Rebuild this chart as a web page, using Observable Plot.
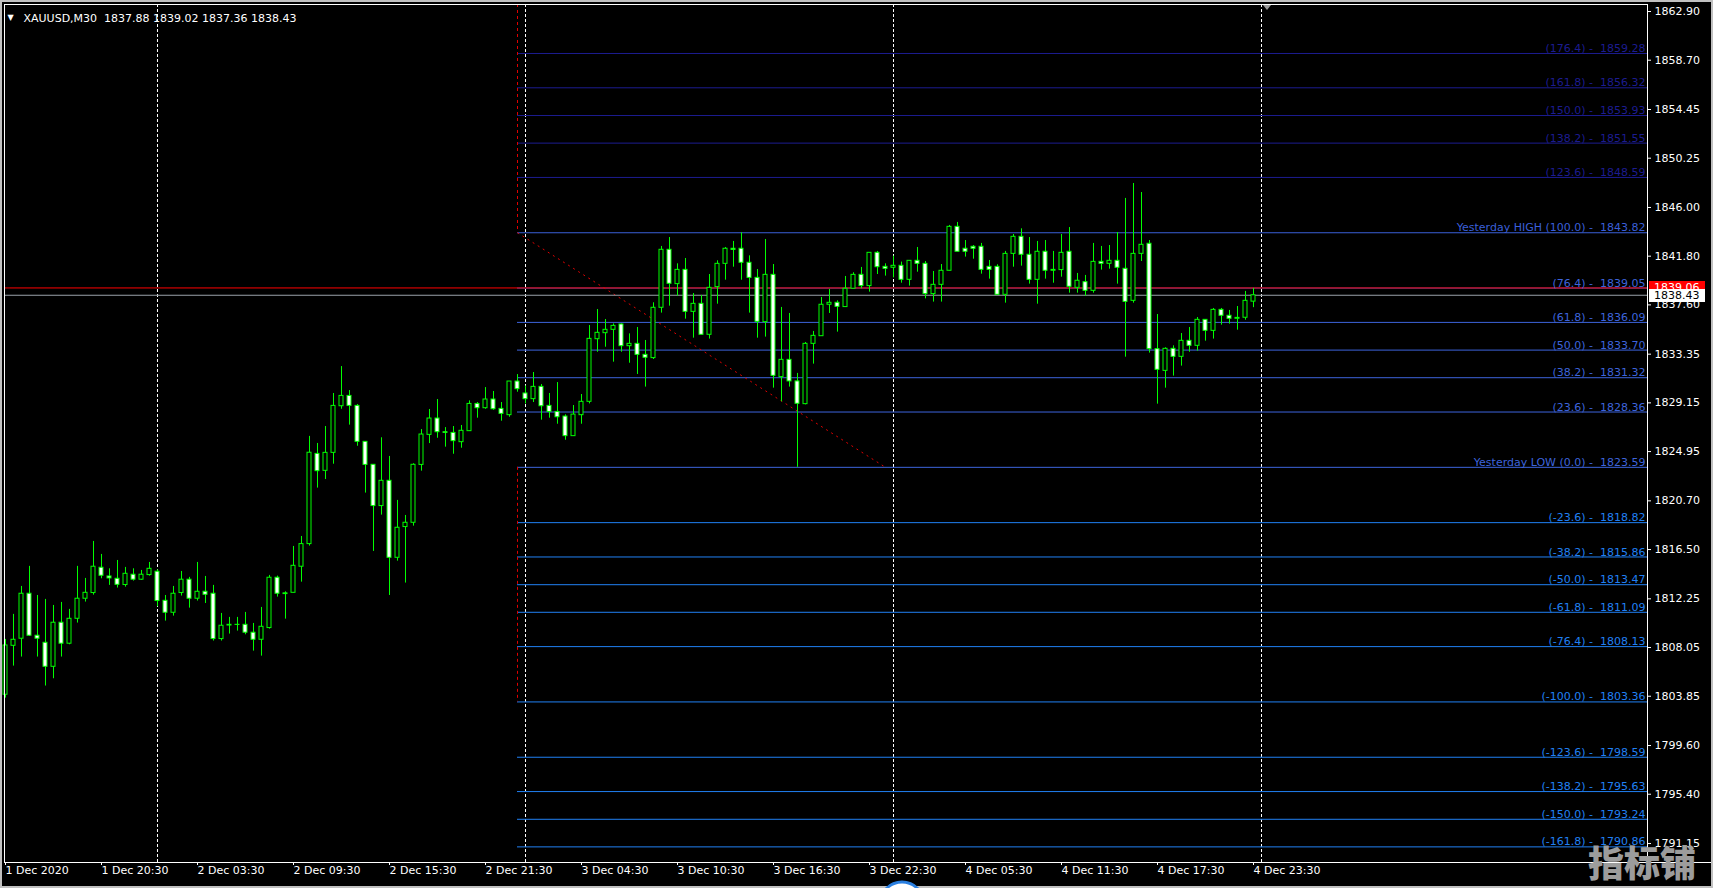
<!DOCTYPE html>
<html><head><meta charset="utf-8">
<script src="https://cdn.jsdelivr.net/npm/d3@7"></script>
<script src="https://cdn.jsdelivr.net/npm/@observablehq/plot@0.6"></script>
<style>
html,body{margin:0;padding:0;background:#000;overflow:hidden}
#chart{position:relative;width:1713px;height:888px;overflow:hidden}
svg text{white-space:pre}
</style></head><body><div id="chart"></div>
<script>
// ---- XAUUSD M30 bars (index 0 = 1 Dec 14:30) ----
const openP = [1803.98,1808.20,1808.81,1812.69,1809.07,1808.46,1806.39,1810.19,1808.38,1810.53,1812.26,1812.75,1814.93,1814.18,1813.98,1813.44,1814.33,1813.90,1814.30,1814.59,1812.08,1811.05,1812.75,1813.90,1812.26,1812.86,1812.69,1808.78,1809.95,1810.01,1810.01,1809.33,1808.72,1809.73,1814.07,1812.72,1812.77,1815.02,1816.97,1824.75,1823.29,1824.84,1828.86,1829.75,1828.89,1825.79,1823.81,1820.25,1822.43,1815.79,1818.44,1818.81,1823.80,1826.39,1827.80,1826.62,1826.56,1825.76,1826.71,1829.06,1828.69,1829.44,1828.63,1828.09,1830.99,1829.96,1829.47,1830.53,1828.89,1828.37,1827.97,1826.28,1828.09,1829.24,1834.64,1835.16,1835.45,1835.91,1834.04,1834.24,1833.29,1833.01,1837.35,1842.35,1839.39,1840.62,1837.00,1837.69,1835.02,1839.13,1841.14,1842.44,1842.44,1841.23,1839.93,1836.11,1840.19,1831.37,1832.86,1831.00,1829.04,1834.24,1834.90,1837.61,1837.78,1837.41,1838.99,1840.19,1839.22,1842.09,1840.88,1840.80,1840.97,1839.76,1841.40,1841.14,1838.53,1839.33,1840.54,1844.33,1842.44,1842.61,1842.61,1840.88,1840.88,1838.47,1842.00,1843.47,1841.92,1839.76,1842.18,1840.54,1840.60,1842.18,1839.07,1839.56,1838.81,1841.31,1841.14,1841.40,1840.71,1837.95,1842.00,1842.87,1833.78,1831.91,1833.81,1833.12,1834.50,1834.07,1836.31,1835.36,1837.17,1836.66,1836.40,1836.49,1837.88];
const highP = [1808.75,1810.91,1813.32,1815.05,1812.54,1812.20,1811.68,1811.94,1811.34,1815.05,1814.01,1817.20,1816.08,1814.84,1815.56,1814.96,1814.84,1814.70,1815.39,1814.75,1812.54,1813.32,1814.61,1814.10,1815.39,1814.18,1813.41,1810.99,1810.65,1810.65,1811.08,1810.13,1811.51,1814.27,1814.21,1812.86,1816.77,1817.63,1826.26,1825.65,1827.11,1829.96,1832.28,1830.21,1829.01,1825.79,1823.81,1826.14,1824.53,1820.74,1819.44,1823.90,1826.85,1828.58,1829.44,1827.02,1827.11,1827.20,1829.32,1829.18,1830.47,1830.13,1829.18,1830.99,1831.59,1830.60,1831.77,1830.73,1829.96,1830.90,1828.12,1828.92,1829.87,1835.82,1837.20,1836.34,1835.96,1835.96,1835.10,1835.65,1834.53,1837.78,1842.64,1843.41,1841.14,1841.60,1838.58,1838.41,1840.22,1841.40,1842.55,1843.07,1843.82,1841.83,1840.65,1843.24,1841.08,1837.38,1836.86,1831.69,1834.36,1835.31,1838.24,1838.93,1837.95,1840.05,1840.37,1840.83,1842.09,1842.21,1841.14,1841.80,1841.29,1841.40,1842.55,1841.34,1840.48,1841.08,1844.45,1844.71,1843.15,1842.72,1842.90,1841.43,1841.06,1842.21,1843.67,1844.16,1843.41,1843.07,1843.15,1842.21,1843.67,1844.27,1840.31,1840.14,1842.90,1842.64,1842.72,1843.84,1846.78,1848.07,1847.29,1843.15,1836.77,1833.90,1834.07,1835.13,1835.65,1836.51,1836.31,1837.29,1837.29,1837.12,1837.46,1838.76,1839.02];
const lowP = [1803.69,1806.45,1807.23,1809.01,1807.23,1804.73,1805.36,1807.23,1808.29,1810.16,1811.97,1812.57,1813.98,1813.41,1813.18,1813.26,1813.78,1813.84,1814.21,1811.57,1810.33,1810.76,1812.49,1811.45,1812.06,1811.85,1808.61,1808.61,1809.21,1809.47,1809.15,1807.74,1807.31,1809.64,1812.40,1810.50,1812.77,1813.69,1816.80,1821.80,1822.54,1823.86,1828.60,1827.23,1825.41,1821.37,1816.34,1819.47,1812.54,1815.50,1813.61,1818.52,1823.26,1825.64,1826.10,1825.33,1824.72,1825.24,1826.71,1827.83,1828.60,1828.52,1827.57,1827.91,1830.07,1829.06,1829.18,1827.66,1827.83,1827.31,1825.93,1826.28,1827.31,1829.06,1833.52,1833.95,1832.66,1833.52,1832.57,1831.60,1830.51,1832.89,1836.89,1837.49,1838.35,1836.37,1834.73,1835.02,1834.65,1837.66,1839.73,1840.85,1839.73,1836.89,1834.73,1834.82,1830.42,1829.24,1830.51,1823.59,1828.98,1832.49,1834.90,1836.86,1835.25,1837.41,1838.99,1838.99,1838.70,1840.22,1840.08,1839.93,1839.47,1839.22,1840.42,1838.12,1837.84,1837.84,1840.54,1842.18,1841.72,1841.54,1840.25,1839.82,1838.47,1837.75,1840.85,1840.94,1839.39,1837.66,1839.82,1839.47,1839.99,1838.61,1838.61,1838.35,1838.61,1840.60,1840.68,1839.39,1833.09,1837.75,1841.34,1833.44,1829.04,1830.42,1831.46,1832.32,1833.52,1833.61,1834.47,1834.65,1835.85,1835.94,1835.42,1836.28,1837.36];
const closeP = [1808.23,1808.72,1812.69,1809.07,1808.81,1806.39,1810.19,1808.38,1810.53,1812.26,1812.77,1815.02,1814.24,1814.01,1813.46,1814.41,1813.90,1814.33,1814.84,1812.06,1811.05,1812.69,1813.90,1812.26,1812.86,1812.60,1808.78,1809.93,1810.01,1810.00,1809.33,1808.72,1809.84,1814.07,1812.69,1812.66,1815.10,1816.97,1824.85,1823.26,1824.84,1828.89,1829.75,1828.89,1825.79,1823.80,1820.25,1822.43,1815.79,1818.38,1818.81,1823.81,1826.42,1827.80,1826.62,1826.56,1825.85,1826.74,1829.06,1828.69,1829.44,1828.60,1828.20,1830.99,1830.33,1829.47,1830.53,1828.86,1828.37,1827.91,1826.28,1828.14,1829.24,1834.67,1835.19,1835.45,1835.79,1834.04,1834.24,1833.29,1833.04,1837.35,1842.35,1839.42,1840.62,1837.00,1837.69,1835.02,1839.07,1841.14,1842.44,1842.34,1841.23,1839.93,1836.14,1840.19,1831.48,1832.86,1831.00,1829.07,1834.24,1834.93,1837.61,1837.78,1837.43,1838.99,1840.19,1839.22,1842.09,1840.85,1840.71,1840.97,1839.76,1841.40,1841.14,1838.53,1839.33,1840.54,1844.33,1842.18,1842.18,1842.44,1840.62,1840.62,1838.47,1842.00,1843.47,1841.92,1839.76,1842.18,1840.54,1840.62,1842.09,1839.16,1839.68,1838.81,1841.31,1841.14,1841.40,1840.80,1837.86,1842.00,1842.78,1833.78,1832.00,1833.81,1833.12,1834.50,1834.07,1836.31,1835.36,1837.17,1836.66,1836.40,1836.48,1837.95,1838.43];

// ---- time axis ----
const xTickIdx = [0,12,24,36,48,60,72,84,96,108,120,132,144,156];
const xTickLabels = ["1 Dec 2020","1 Dec 20:30","2 Dec 03:30","2 Dec 09:30","2 Dec 15:30","2 Dec 21:30","3 Dec 04:30","3 Dec 10:30","3 Dec 16:30","3 Dec 22:30","4 Dec 05:30","4 Dec 11:30","4 Dec 17:30","4 Dec 23:30"];
const daySeparators = [19,65,111,157];
const xLast = 205.25;            // right edge of the visible bar window (chart shift)
const xFirst = -0.125;

// ---- price axis ----
const yTicks = [1862.90,1858.70,1854.45,1850.25,1846.00,1841.80,1837.60,1833.35,1829.15,1824.95,1820.70,1816.50,1812.25,1808.05,1803.85,1799.60,1795.40,1791.15];
const yDomain = [1789.513,1863.504];

// ---- yesterday fibonacci ----
const fibRatios = [176.4,161.8,150.0,138.2,123.6,100.0,76.4,61.8,50.0,38.2,23.6,0.0,-23.6,-38.2,-50.0,-61.8,-76.4,-100.0,-123.6,-138.2,-150.0,-161.8];
const fibPrices = [1859.28,1856.32,1853.93,1851.55,1848.59,1843.82,1839.05,1836.09,1833.70,1831.32,1828.36,1823.59,1818.82,1815.86,1813.47,1811.09,1808.13,1803.36,1798.59,1795.63,1793.24,1790.86];
const fibNames = {"100.0":"Yesterday HIGH ","0.0":"Yesterday LOW "};
const fibColors = ["#1c1c90","#1c1c90","#1c1c90","#1c1c90","#1c1c90","#3a5fd8","#3d64dc","#3d64dc","#3d64dc","#3d64dc","#3d64dc","#3d64dc","#2080f4","#2080f4","#2080f4","#2080f4","#2080f4","#2080f4","#2080f4","#2080f4","#2080f4","#2080f4"];
const fibStartIdx = 64, fibEndIdx = 110;

// ---- quote ----
const symbolName = "XAUUSD,M30";
const bidPrice = 1838.43, askPrice = 1839.06;

const bars = openP.map((o,i)=>({i, open:o, high:highP[i], low:lowP[i], close:closeP[i]}));
const fib = fibRatios.map((r,k)=>({ratio:r, price:fibPrices[k], color:fibColors[k],
  label:(fibNames[r.toFixed(1)]||"") + "(" + r.toFixed(1) + ") -  " + fibPrices[k].toFixed(2)}));
const hi = fibPrices[fibRatios.indexOf(100)], lo = fibPrices[fibRatios.indexOf(0)], lo100 = fibPrices[fibRatios.indexOf(-100)];
const last = bars[bars.length-1];
const titleText = symbolName + "  " + [last.open,last.high,last.low,last.close].map(v=>v.toFixed(2)).join(" ");

const FONT = "DejaVu Sans, Verdana, sans-serif";
const chart = Plot.plot({
  width:1713, height:888,
  marginLeft:4, marginRight:66, marginTop:4, marginBottom:26,
  style:{background:"#000", color:"#fff", fontFamily:FONT, fontSize:"11px", overflow:"visible"},
  x:{type:"linear", domain:[xFirst,xLast], ticks:xTickIdx, tickFormat:()=>"", tickSize:3, label:null},
  y:{domain:yDomain, axis:"right", ticks:yTicks, tickFormat:d=>d.toFixed(2), tickSize:3, tickPadding:4, label:null},
  marks:[
    Plot.ruleX(daySeparators, {x:d=>d, stroke:"#fff", strokeDasharray:"3,2"}),
    Plot.ruleY(fib, {y:"price", x1:fibStartIdx, x2:xLast, stroke:"color"}),
    Plot.ruleX([{y1:yDomain[1], y2:hi},{y1:lo, y2:lo100}], {x:fibStartIdx, y1:"y1", y2:"y2", stroke:"#e00000", strokeDasharray:"3,3"}),
    Plot.link([{x1:fibStartIdx, y1:hi, x2:fibEndIdx, y2:lo}], {x1:"x1", y1:"y1", x2:"x2", y2:"y2", stroke:"#e00000", strokeDasharray:"2,4"}),
    Plot.ruleY([askPrice], {stroke:"#ff0000"}),
    Plot.ruleY([bidPrice], {stroke:"#9aa2aa"}),
    Plot.ruleX(bars, {x:"i", y1:"low", y2:"high", stroke:"#00ff00"}),
    Plot.rect(bars, {x1:d=>d.i-0.25, x2:d=>d.i+0.25, y1:"open", y2:"close",
      fill:d=>d.close<d.open?"#ffffff":"#000000", stroke:"#00ff00", strokeWidth:1}),
    Plot.text(fib, {x:xLast, y:"price", text:"label", textAnchor:"end", dx:-2, dy:-5, fill:"color", fontSize:11}),
    Plot.text(xTickIdx, {x:d=>d, text:(d,k)=>xTickLabels[k], frameAnchor:"bottom", dy:11, textAnchor:"start", fill:"#fff", fontSize:11}),
    Plot.text([titleText], {text:d=>d, frameAnchor:"top-left", dx:19, dy:10, textAnchor:"start", fill:"#fff", fontSize:11}),
    Plot.text(["\u25BC"], {text:d=>d, frameAnchor:"top-left", dx:6, dy:10, textAnchor:"middle", fill:"#fff", fontSize:8}),
    Plot.frame({stroke:"#fff"})
  ]
});
document.getElementById("chart").appendChild(chart);

// price labels on the right scale + window details, positioned through Plot's own scales
const sx = chart.scale("x"), sy = chart.scale("y");
const svg = d3.select(chart);
const xr = sx.range[1];
const g = svg.append("g").attr("text-anchor","start");
function priceBox(price, bg, fg){
  const y = sy.apply(price);
  g.append("rect").attr("x", xr+2).attr("y", Math.round(y)-6).attr("width", 56).attr("height", 13).attr("fill", bg);
  g.append("text").attr("x", xr+7).attr("y", y).attr("dy","0.36em").attr("fill", fg).attr("text-anchor","start")
    .style("font-family", FONT).style("font-size","11px").text(price.toFixed(2));
}
priceBox(askPrice, "#ff0000", "#ffffff");
priceBox(bidPrice, "#ffffff", "#000000");
// x-axis line across the full width
g.append("line").attr("x1", xr).attr("x2", 1713).attr("y1", sy.range[0]+0.5).attr("y2", sy.range[0]+0.5).attr("stroke","#fff");
// chart shift marker
const xs = sx.apply(daySeparators[3]) + 6;
g.append("path").attr("d", `M${xs-4},${sy.range[1]+1}L${xs+4},${sy.range[1]+1}L${xs},${sy.range[1]+6}Z`).attr("fill","#9a9a9a");
// window border
g.append("rect").attr("x",1).attr("y",1).attr("width",1711).attr("height",886)
  .attr("fill","none").attr("stroke","#c0c0c0").attr("stroke-width",2);
// round button peeking at the bottom edge
g.append("circle").attr("cx", sx.apply(daySeparators[2]) + 9).attr("cy", 904).attr("r", 22)
  .attr("fill","#ffffff").attr("stroke","#2a7fe0").attr("stroke-width",3);
// watermark
g.append("text").attr("x", 1642).attr("y", 864).attr("dy","0.35em").attr("text-anchor","middle")
  .style("font-family","Noto Sans CJK SC").style("font-size","36px").style("font-weight","900")
  .attr("fill","#9c9c9c").text("指标铺");
</script>
</body></html>
